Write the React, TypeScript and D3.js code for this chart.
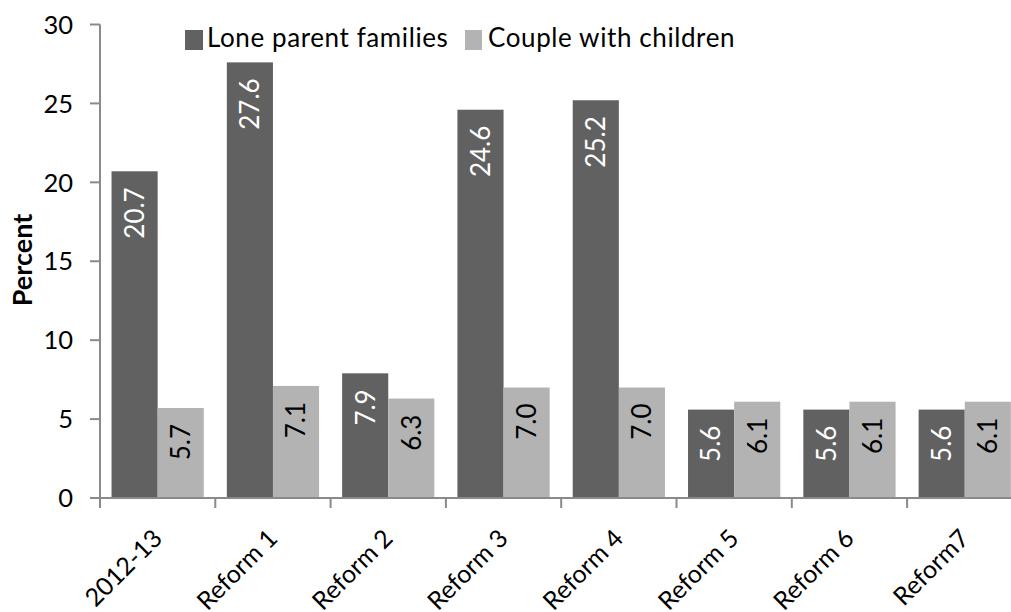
import React from "react";
import * as d3 from "d3";

const categories = ["2012-13", "Reform 1", "Reform 2", "Reform 3", "Reform 4", "Reform 5", "Reform 6", "Reform7"];
const loneParent = [20.7, 27.6, 7.9, 24.6, 25.2, 5.6, 5.6, 5.6];
const coupleChildren = [5.7, 7.1, 6.3, 7.0, 7.0, 6.1, 6.1, 6.1];
const seriesNames = ["Lone parent families", "Couple with children"];
const yTicks = [0, 5, 10, 15, 20, 25, 30];

const W = 1011;
const H = 612;
const FONT = "Lato, 'Open Sans', sans-serif";
const DARK = "#616161";
const LIGHT = "#b3b3b3";
const AXIS = "#8a8a8a";

export default function App() {
  const x0 = 100;
  const step = 115.3;
  const x = d3.scaleBand<string>().domain(categories).range([x0, x0 + step * categories.length]).padding(0);
  const xs = d3.scaleBand<string>().domain(["a", "b"]).range([0, x.bandwidth()]).paddingInner(0).paddingOuter(0.25);
  const y = d3.scaleLinear().domain([0, 30]).range([498, 24.5]);
  const series = [
    { key: "a", values: loneParent, color: DARK, text: "#ffffff" },
    { key: "b", values: coupleChildren, color: LIGHT, text: "#000000" },
  ];
  const bw = xs.bandwidth();
  const boundaries = categories.map((c) => x(c) as number);

  return (
    <svg width={W} height={H} style={{ position: "absolute", left: 0, top: 0, background: "#fff" }} fontFamily={FONT}>
      <rect x={0} y={0} width={W} height={H} fill="#fff" />
      {/* bars */}
      {series.map((s) =>
        categories.map((c, i) => {
          const bx = (x(c) as number) + (xs(s.key) as number);
          const by = y(s.values[i]);
          return (
            <g key={s.key + c}>
              <rect x={bx} y={by} width={bw} height={y(0) - by} fill={s.color} />
              <text
                transform={`translate(${bx + bw / 2},${by + 16}) rotate(-90)`}
                textAnchor="end"
                dy="0.36em"
                fontSize={26}
                fill={s.text}
              >
                {s.values[i].toFixed(1)}
              </text>
            </g>
          );
        })
      )}
      {/* y axis */}
      <line x1={100} x2={100} y1={y(30)} y2={508} stroke={AXIS} strokeWidth={2} />
      {yTicks.map((t) => (
        <g key={t}>
          <line x1={90} x2={100} y1={y(t)} y2={y(t)} stroke={AXIS} strokeWidth={2} />
          <text x={73} y={y(t)} dy="0.36em" textAnchor="end" fontSize={25.5} fill="#000">
            {t}
          </text>
        </g>
      ))}
      {/* x axis */}
      <line x1={90} x2={W} y1={y(0)} y2={y(0)} stroke={AXIS} strokeWidth={2} />
      {boundaries.map((b, i) => (
        <line key={i} x1={b} x2={b} y1={y(0)} y2={508} stroke={AXIS} strokeWidth={2} />
      ))}
      {categories.map((c) => {
        const cx = (x(c) as number) + x.bandwidth() / 2;
        return (
          <text key={c} transform={`translate(${cx + 6},${540}) rotate(-45)`} textAnchor="end" fontSize={25} fill="#000">
            {c}
          </text>
        );
      })}
      {/* y label */}
      <text transform={`translate(32,260) rotate(-90)`} textAnchor="middle" fontSize={27} fontWeight="bold" fill="#000">
        Percent
      </text>
      {/* legend */}
      <rect x={185} y={30} width={18} height={20} fill={DARK} />
      <text x={207} y={47} fontSize={26} fill="#000" letterSpacing={0.6}>
        {seriesNames[0]}
      </text>
      <rect x={465} y={30} width={17} height={20} fill={LIGHT} />
      <text x={488} y={47} fontSize={26} fill="#000" letterSpacing={0.6}>
        {seriesNames[1]}
      </text>
    </svg>
  );
}
